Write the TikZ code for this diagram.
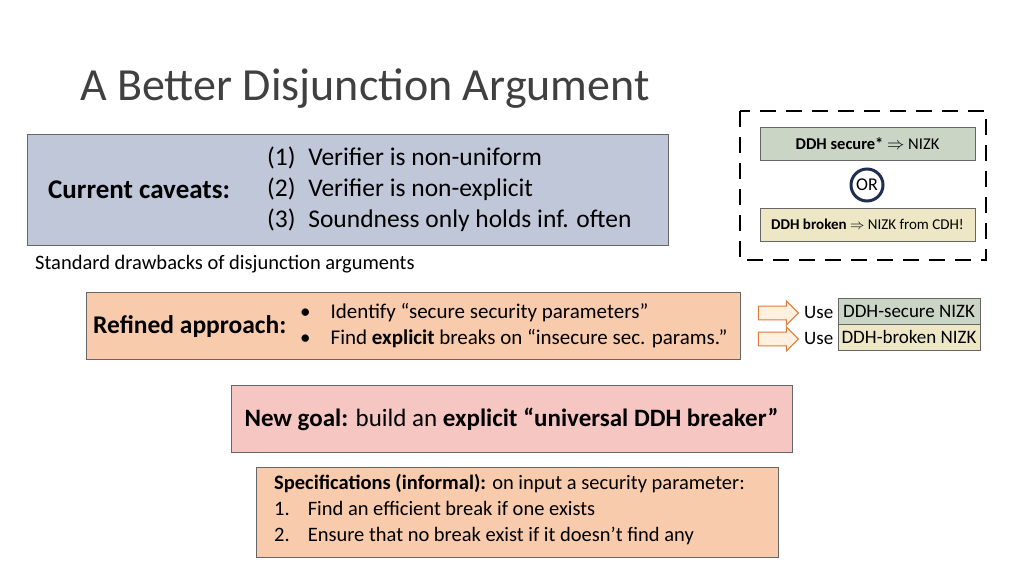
\documentclass[tikz,border=0pt]{standalone}
\usepackage{fontspec}
\setmainfont{Carlito}
\usetikzlibrary{shapes.arrows}
\definecolor{cavfill}{HTML}{C0C7D9}
\definecolor{secfill}{HTML}{CBD5C6}
\definecolor{brkfill}{HTML}{EEE7C6}
\definecolor{peach}{HTML}{F8CBAD}
\definecolor{pinkfill}{HTML}{F6C6C2}
\definecolor{navy}{HTML}{1F2F4F}
\definecolor{arrorange}{HTML}{E07B39}
\tikzset{
  panel/.style={draw=gray!80!black, line width=0.8pt, inner sep=0pt},
  small/.style={font=\fontsize{16.5}{18}\selectfont},
  body/.style={font=\fontsize{25.5}{31}\selectfont},
  mid/.style={font=\fontsize{21}{26}\selectfont},
  fatarrow/.style={single arrow, draw=arrorange, fill=orange!12, line width=1pt,
    minimum width=24pt, single arrow head extend=5pt, minimum height=40pt,
    inner xsep=0pt, inner ysep=6pt},
}
\begin{document}
\begin{tikzpicture}[x=1pt,y=-1pt]
\useasboundingbox[fill=white] (0,0) rectangle (1024,576);

% title
\node[anchor=base west, inner sep=0pt, font=\fontsize{46}{50}\selectfont, text=black!75] (title) at (80,100) {A Better Disjunction Argument};

% caveats
\draw[panel, fill=cavfill] (27,134) rectangle (668,245);
\node[anchor=west, inner sep=0pt, font=\bfseries\fontsize{27}{31}\selectfont] (cav) at (48,190) {Current caveats:};
\node[anchor=west, inner sep=0pt, body, align=left] (cavlist) at (267,189) {(1)\enspace Verifier is non-uniform\\(2)\enspace Verifier is non-explicit\\(3)\enspace Soundness only holds inf. often};
\node[anchor=west, inner sep=0pt, font=\fontsize{20.5}{24}\selectfont] (std) at (35,264) {Standard drawbacks of disjunction arguments};

% dashed disjunction
\draw[line width=2.5pt, dash pattern=on 16pt off 10pt] (740,111) rectangle (986,260);
\node[panel, fill=secfill, minimum width=215pt, minimum height=33pt, small] (sec) at (867.5,143.5) {\textbf{DDH secure*} $\Rightarrow$ NIZK};
\node[circle, draw=navy, line width=3pt, minimum size=32pt, inner sep=0pt, font=\fontsize{18}{20}\selectfont] (or) at (867,185) {OR};
\node[panel, fill=brkfill, minimum width=215pt, minimum height=33pt, font=\fontsize{15}{18}\selectfont] (brk) at (867.5,224.5) {\textbf{DDH broken} $\Rightarrow$ NIZK from CDH!};

% refined approach
\draw[panel, fill=peach] (86,292) rectangle (740,359);
\node[anchor=west, inner sep=0pt, font=\bfseries\fontsize{25.5}{30}\selectfont] (ref) at (93,327) {Refined approach:};
\node[anchor=west, inner sep=0pt, mid] (refa) at (300,313) {\textbullet\hspace{20pt}Identify “secure security parameters”};
\node[anchor=west, inner sep=0pt, mid] (refb) at (300,339) {\textbullet\hspace{20pt}Find \textbf{explicit} breaks on “insecure sec. params.”};

\node[fatarrow] (arra) at (775,313) {};
\node[fatarrow] (arrb) at (775,339) {};
\node[anchor=west, inner sep=0pt, font=\fontsize{19}{22}\selectfont] (usea) at (804,312) {Use};
\node[anchor=west, inner sep=0pt, font=\fontsize{19}{22}\selectfont] (useb) at (804,338) {Use};
\node[panel, fill=secfill, minimum width=142pt, minimum height=26pt, font=\fontsize{19}{22}\selectfont] (nsec) at (909,311) {DDH-secure NIZK};
\node[panel, fill=brkfill, minimum width=142pt, minimum height=26pt, font=\fontsize{19}{22}\selectfont] (nbrk) at (909,337) {DDH-broken NIZK};

% new goal
\draw[panel, fill=pinkfill] (231,385) rectangle (792,452);
\node[font=\fontsize{25}{30}\selectfont] (goal) at (511.5,419) {\textbf{New goal:} build an \textbf{explicit “universal DDH breaker”}};

% specifications
\draw[panel, fill=peach] (256,467) rectangle (778,557);
\node[anchor=west, inner sep=0pt, font=\fontsize{20.5}{26}\selectfont, align=left] (spec) at (274,510) {\textbf{Specifications (informal):} on input a security parameter:\\1.\hspace{18pt}Find an efficient break if one exists\\2.\hspace{18pt}Ensure that no break exist if it doesn’t find any};
\end{tikzpicture}
\end{document}
